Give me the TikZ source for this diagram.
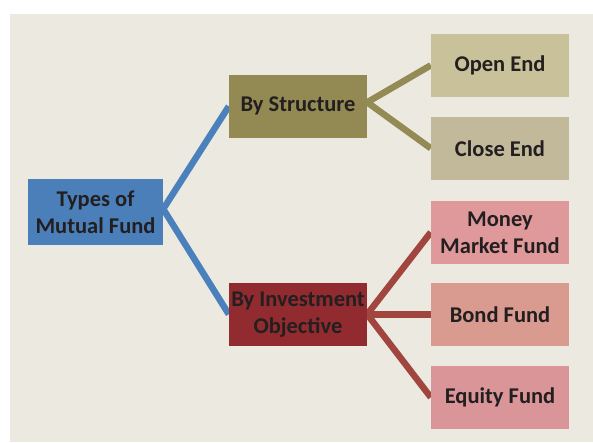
\documentclass[tikz,border=0pt]{standalone}
\usepackage{fontspec}
\setmainfont{Carlito}
\usetikzlibrary{backgrounds}
\definecolor{bgc}{HTML}{ECE9E1}
\definecolor{blueb}{HTML}{4A7FB9}
\definecolor{bluel}{HTML}{4A81BD}
\definecolor{oliveb}{HTML}{938953}
\definecolor{olivel}{HTML}{948A54}
\definecolor{redb}{HTML}{922B2F}
\definecolor{redl}{HTML}{A0463F}
\definecolor{openc}{HTML}{C9C19A}
\definecolor{closec}{HTML}{C2B99B}
\definecolor{moneyc}{HTML}{E0999A}
\definecolor{bondc}{HTML}{D99A8F}
\definecolor{equityc}{HTML}{D99597}
\definecolor{txt}{HTML}{231F20}
\begin{document}
\begin{tikzpicture}[x=1pt,y=-1pt,
  box/.style={minimum width=138pt,minimum height=62.7pt,inner sep=0pt,align=center,
    font=\fontsize{22.5}{27}\selectfont\bfseries,text=txt},
  conn/.style={line width=6.5pt}]
\useasboundingbox (0,0) rectangle (593,442);
% nodes
\node[box,fill=blueb,minimum width=135pt,minimum height=65.7pt] (types) at (95.5,212) {Types of\\Mutual Fund};
\node[box,fill=oliveb] (struct) at (298,106.3) {By Structure};
\node[box,fill=redb] (invest) at (298,314.3) {By Investment\\Objective};
\node[box,fill=openc] (open) at (500,65.3) {Open End};
\node[box,fill=closec] (close) at (500,148.3) {Close End};
\node[box,fill=moneyc] (money) at (500,232.3) {Money\\Market Fund};
\node[box,fill=bondc] (bond) at (500,314.3) {Bond Fund};
\node[box,fill=equityc] (equity) at (500,397.3) {Equity Fund};
% connector hubs
\coordinate (h1) at ([yshift=3pt]types.east);
\coordinate (h2) at ([yshift=4pt]struct.east);
\coordinate (h3) at (invest.east);
\begin{scope}[on background layer]
\fill[white] (0,0) rectangle (593,442);
\fill[bgc] (9.8,14) rectangle (593,442);
\draw[conn,bluel] (struct.west) -- (h1) -- (invest.west);
\draw[conn,olivel] (open.west) -- (h2) -- (close.west);
\draw[conn,redl] (money.west) -- (h3) -- (equity.west);
\draw[conn,redl] (h3) -- (bond.west);
\end{scope}
\end{tikzpicture}
\end{document}
